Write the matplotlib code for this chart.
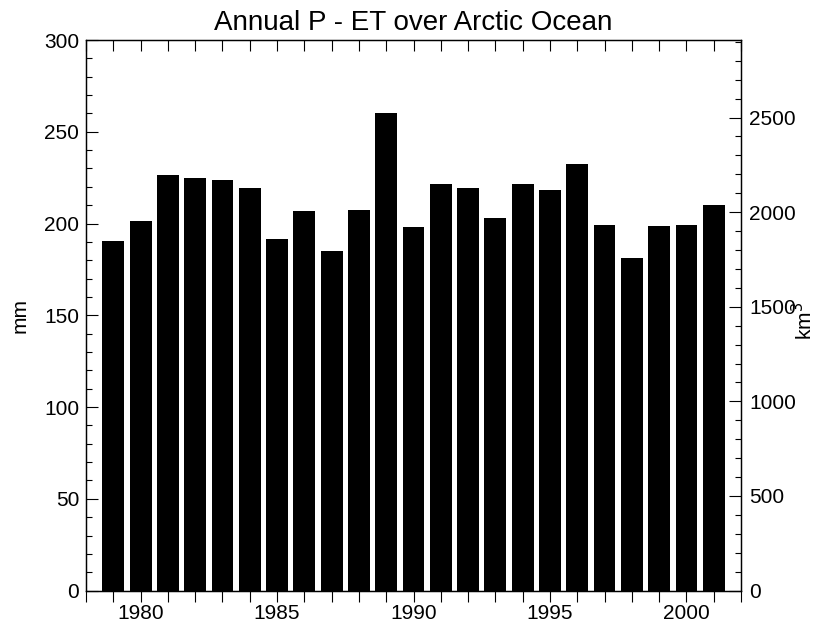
import numpy as np
import matplotlib.pyplot as plt
from matplotlib.ticker import MultipleLocator

plt.rcParams['font.family'] = ['Liberation Sans', 'DejaVu Sans']

# annual P - ET, mm over the Arctic Ocean
years = list(range(1979, 2002))
p_minus_et = [190.3, 201.4, 226.3, 224.7, 223.6, 219.1, 191.4, 206.7, 185.2, 207.2,
              260.2, 198.2, 221.6, 219.4, 202.9, 221.6, 218.5, 232.3, 199.4, 181.0,
              198.7, 199.4, 209.9]
mm_to_km3 = 9.7  # ocean area factor, mm -> km^3

fig = plt.figure(figsize=(8.15, 6.25), dpi=100)
ax = fig.add_axes([86/815, 1 - 590.6/625, (741 - 86)/815, (590.6 - 40)/625])

ax.bar(years, p_minus_et, width=0.8, color='black')
ax.set_xlim(1978, 2002)
ax.set_ylim(0, 300)

# x axis: a tick every year, labels every 5
ax.set_xticks(range(1978, 2003))
ax.set_xticklabels([str(y) if y % 5 == 0 else '' for y in range(1978, 2003)])
ax.tick_params(axis='x', which='both', direction='out', length=7.8, width=0.8,
               top=True, pad=2, labelsize=15)
# top ticks point into the plot
for t in ax.xaxis.get_major_ticks():
    t.tick2line.set_marker(3)  # TICKDOWN
    t.tick2line.set_markersize(8.2)

ax.yaxis.set_major_locator(MultipleLocator(50))
ax.yaxis.set_minor_locator(MultipleLocator(10))
ax.tick_params(axis='y', which='major', direction='in', length=8.6, width=0.8,
               labelsize=15, pad=5, right=False)
ax.tick_params(axis='y', which='minor', direction='in', length=4.3, width=0.8, right=False)
ax.set_ylabel('mm', fontsize=15, labelpad=10)

ax2 = ax.twinx()
ax2.set_ylim(0, 300 * mm_to_km3)
ax2.yaxis.set_major_locator(MultipleLocator(500))
ax2.yaxis.set_minor_locator(MultipleLocator(100))
ax2.tick_params(axis='y', which='major', direction='in', length=8.6, width=0.8,
                labelsize=15, pad=6)
ax2.tick_params(axis='y', which='minor', direction='in', length=4.3, width=0.8)
ax2.set_ylabel('km$^3$', fontsize=15)
ax2.yaxis.set_label_coords(1.076, 0.49)

for a in (ax, ax2):
    for s in a.spines.values():
        s.set_linewidth(0.9)

ax.set_title('Annual P - ET over Arctic Ocean', fontsize=20, pad=7)

fig.savefig('out.png', dpi=100)
